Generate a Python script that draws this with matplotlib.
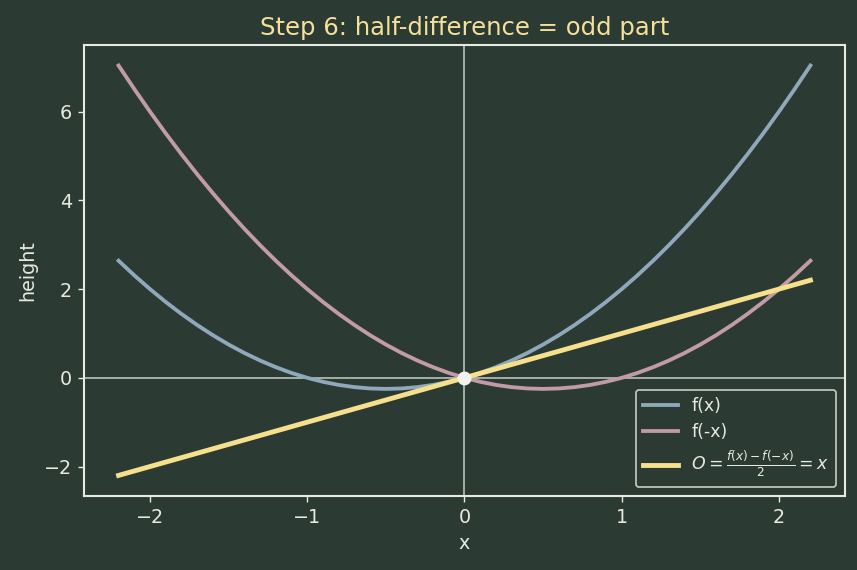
import matplotlib.pyplot as plt

# values, x from -2.2 to 2.2 in steps of 0.1
x = [-2.2, -2.1, -2.0, -1.9, -1.8, -1.7, -1.6, -1.5, -1.4, -1.3, -1.2, -1.1,
     -1.0, -0.9, -0.8, -0.7, -0.6, -0.5, -0.4, -0.3, -0.2, -0.1, 0.0,
     0.1, 0.2, 0.3, 0.4, 0.5, 0.6, 0.7, 0.8, 0.9, 1.0, 1.1, 1.2, 1.3,
     1.4, 1.5, 1.6, 1.7, 1.8, 1.9, 2.0, 2.1, 2.2]
f_pos = [2.64, 2.31, 2.00, 1.71, 1.44, 1.19, 0.96, 0.75, 0.56, 0.39, 0.24, 0.11,
         0.00, -0.09, -0.16, -0.21, -0.24, -0.25, -0.24, -0.21, -0.16, -0.09, 0.00,
         0.11, 0.24, 0.39, 0.56, 0.75, 0.96, 1.19, 1.44, 1.71, 2.00, 2.31, 2.64, 2.99,
         3.36, 3.75, 4.16, 4.59, 5.04, 5.51, 6.00, 6.51, 7.04]
f_neg = [7.04, 6.51, 6.00, 5.51, 5.04, 4.59, 4.16, 3.75, 3.36, 2.99, 2.64, 2.31,
         2.00, 1.71, 1.44, 1.19, 0.96, 0.75, 0.56, 0.39, 0.24, 0.11, 0.00,
         -0.09, -0.16, -0.21, -0.24, -0.25, -0.24, -0.21, -0.16, -0.09, 0.00, 0.11, 0.24, 0.39,
         0.56, 0.75, 0.96, 1.19, 1.44, 1.71, 2.00, 2.31, 2.64]
odd = [-2.2, -2.1, -2.0, -1.9, -1.8, -1.7, -1.6, -1.5, -1.4, -1.3, -1.2, -1.1,
       -1.0, -0.9, -0.8, -0.7, -0.6, -0.5, -0.4, -0.3, -0.2, -0.1, 0.0,
       0.1, 0.2, 0.3, 0.4, 0.5, 0.6, 0.7, 0.8, 0.9, 1.0, 1.1, 1.2, 1.3,
       1.4, 1.5, 1.6, 1.7, 1.8, 1.9, 2.0, 2.1, 2.2]

bg = '#2b3b34'
fg = '#e8eadf'

fig, ax = plt.subplots(figsize=(6.856, 4.56), dpi=125)
fig.patch.set_facecolor(bg)
ax.set_facecolor(bg)

ax.axhline(0, color='#c5cfc3', lw=1.1, alpha=0.8, zorder=1)
ax.axvline(0, color='#c5cfc3', lw=1.1, alpha=0.8, zorder=1)

ax.plot(x, f_pos, color='#8fa9bb', lw=2.2, label='f(x)', zorder=2)
ax.plot(x, f_neg, color='#c39ba6', lw=2.2, label='f(-x)', zorder=2)
ax.plot(x, odd, color='#f7e08c', lw=2.8, zorder=3,
        label=r'$O=\frac{f(x)-f(-x)}{2}=x$')
ax.plot([0], [0], 'o', color='#f2f2ec', ms=7, zorder=4)

ax.set_title('Step 6: half-difference = odd part', color='#f5e09a', fontsize=14)
ax.set_xlabel('x', color=fg, fontsize=11)
ax.set_ylabel('height', color=fg, fontsize=11)
ax.tick_params(colors=fg, labelsize=11)
for s in ax.spines.values():
    s.set_color(fg)
    s.set_linewidth(1.2)

leg = ax.legend(loc='lower right', facecolor=bg, edgecolor=fg, fontsize=10)
for t in leg.get_texts():
    t.set_color(fg)

fig.subplots_adjust(left=0.098, right=0.986, top=0.921, bottom=0.13)
fig.savefig('out.png', facecolor=bg)
